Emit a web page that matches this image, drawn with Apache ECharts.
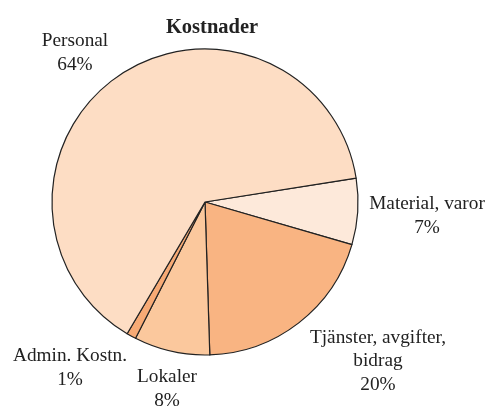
<!DOCTYPE html>
<html>
<head>
<meta charset="utf-8">
<script src="https://cdn.jsdelivr.net/npm/echarts@6/dist/echarts.min.js"></script>
<style>
  html, body { margin: 0; padding: 0; background: #fff; }
  #main { width: 489px; height: 408px; }
</style>
</head>
<body>
<div id="main"></div>
<script>
// data, clockwise from the right
let categories = ['Material, varor', 'Tjänster, avgifter,\nbidrag', 'Lokaler', 'Admin. Kostn.', 'Personal'];
let shares = [7, 20, 8, 1, 64];

let sliceColors = ['#FDE9DA', '#F9B482', '#FBC89D', '#F7AA75', '#FDDDC4'];
// label block centres (x, y)
let labelPos = [[427, 216], [378, 361], [167, 389], [70, 368], [75, 53]];

let myChart = echarts.init(document.getElementById('main'));

let option = {
    animation: false,
    title: {
        text: 'Kostnader',
        left: 207,
        top: 12,
        textAlign: 'center',
        textStyle: {
            fontFamily: 'Liberation Serif',
            fontWeight: 'bold',
            fontSize: 20.5,
            color: '#222'
        }
    },
    series: [{
        type: 'pie',
        center: [205, 202],
        radius: 153,
        startAngle: 9,
        clockwise: true,
        avoidLabelOverlap: false,
        itemStyle: {
            borderColor: '#222',
            borderWidth: 1.2
        },
        label: {
            show: true,
            position: 'outside',
            fontFamily: 'Liberation Serif',
            fontSize: 19.3,
            lineHeight: 23.5,
            color: '#222',
            align: 'center',
            formatter: function (p) {
                return p.name + '\n' + Math.round(p.percent) + '%';
            }
        },
        labelLine: { show: false },
        labelLayout: function (params) {
            let p = labelPos[params.dataIndex];
            return { x: p[0], y: p[1], align: 'center', verticalAlign: 'middle' };
        },
        data: categories.map(function (name, i) {
            return { name: name, value: shares[i], itemStyle: { color: sliceColors[i] } };
        })
    }]
};

myChart.setOption(option);
</script>
</body>
</html>
